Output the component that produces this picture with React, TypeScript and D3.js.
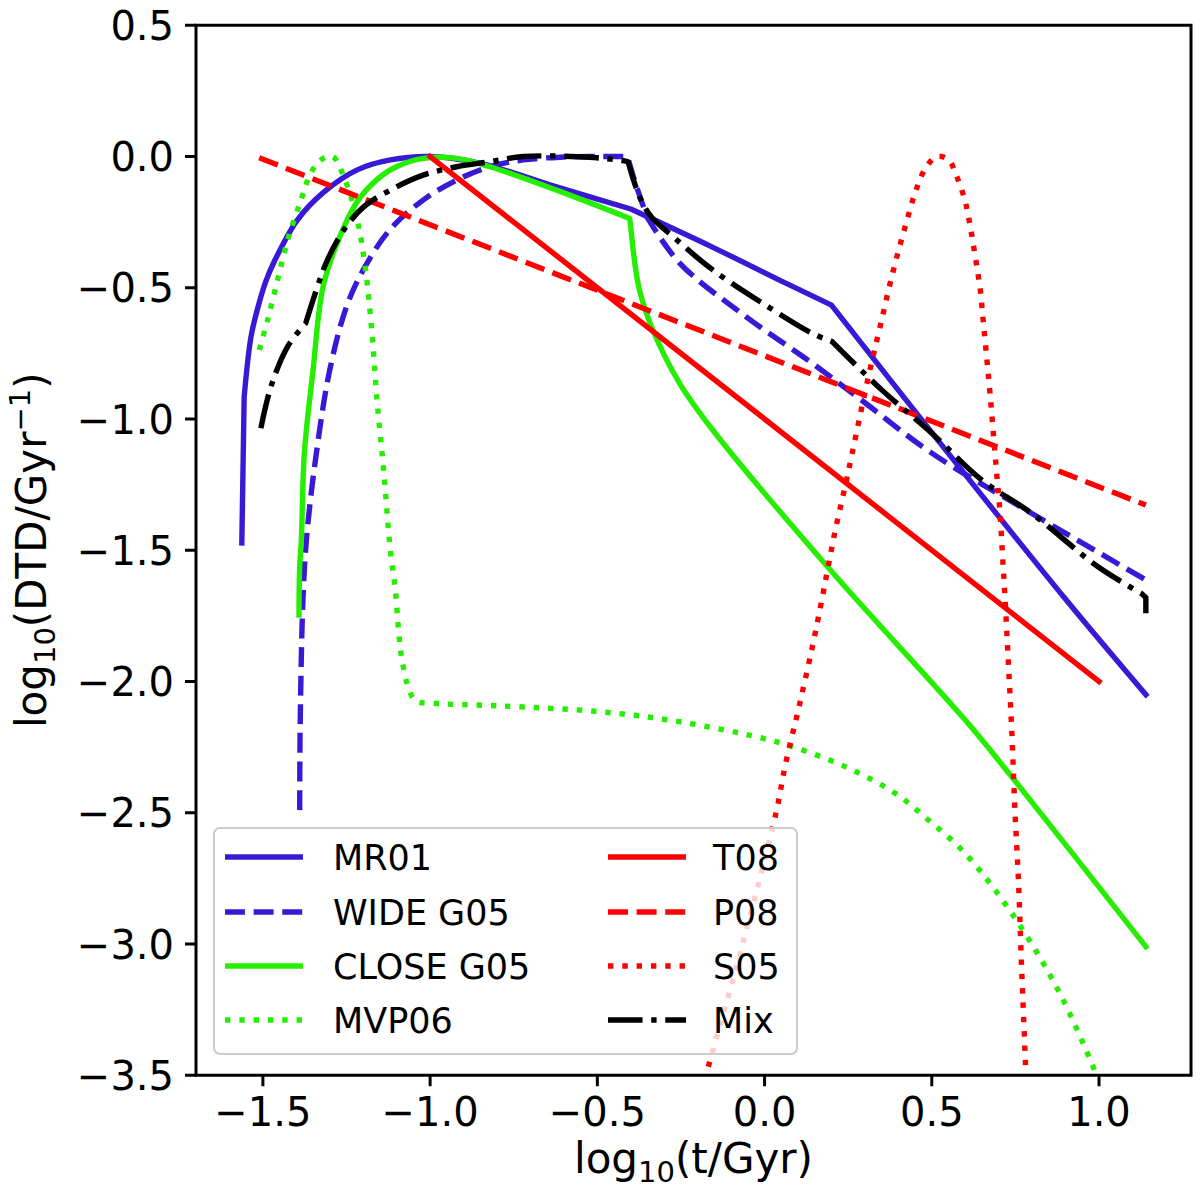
import React from 'react';
import * as d3 from 'd3';

// curves, as [log10(t/Gyr), log10(DTD/Gyr^-1)]
const mr01 = [
  [-1.563, -1.472], [-1.556, -0.916], [-1.536, -0.69], [-1.516, -0.58], [-1.491, -0.475],
  [-1.466, -0.4], [-1.397, -0.242], [-1.317, -0.135], [-1.218, -0.051], [-1.119, -0.013],
  [-1.0, 0.0], [-0.85, -0.026], [-0.622, -0.116], [-0.4, -0.2], [-0.156, -0.345],
  [0.043, -0.47], [0.2, -0.566], [0.499, -1.05], [0.899, -1.685], [1.14, -2.05],
];
const wideG05 = [
  [-1.39, -2.49], [-1.389, -2.22], [-1.386, -1.97], [-1.381, -1.716], [-1.37, -1.461],
  [-1.34, -1.129], [-1.3, -0.813], [-1.25, -0.572], [-1.2, -0.432], [-1.121, -0.28],
  [-1.021, -0.166], [-0.921, -0.09], [-0.822, -0.039], [-0.722, -0.013], [-0.6, -0.002],
  [-0.523, 0.0], [-0.41, 0.0], [-0.389, -0.09], [-0.369, -0.166], [-0.35, -0.234],
  [-0.254, -0.406], [-0.056, -0.61], [0.142, -0.787], [0.302, -0.94], [0.5, -1.13],
  [0.798, -1.359], [1.14, -1.613],
];
const closeG05 = [
  [-1.392, -1.747], [-1.39, -1.563], [-1.385, -1.461], [-1.376, -1.13], [-1.35, -0.813],
  [-1.32, -0.496], [-1.27, -0.305], [-1.221, -0.178], [-1.161, -0.09], [-1.101, -0.039],
  [-1.02, -0.007], [-0.92, -0.007], [-0.821, -0.039], [-0.622, -0.128], [-0.403, -0.236],
  [-0.394, -0.344], [-0.374, -0.509], [-0.334, -0.661], [-0.254, -0.864], [-0.155, -1.042],
  [0.2, -1.58], [0.6, -2.147], [0.739, -2.363], [1.14, -3.01],
];
const mvp06 = [
  [-1.511, -0.737], [-1.486, -0.623], [-1.456, -0.47], [-1.426, -0.318], [-1.386, -0.166],
  [-1.357, -0.064], [-1.327, -0.013], [-1.292, 0.0], [-1.258, -0.077], [-1.218, -0.242],
  [-1.193, -0.432], [-1.173, -0.686], [-1.158, -0.94], [-1.139, -1.194], [-1.119, -1.5],
  [-1.104, -1.651], [-1.094, -1.81], [-1.084, -1.918], [-1.064, -2.026], [-1.044, -2.073],
  [-0.99, -2.083], [-0.791, -2.093], [-0.493, -2.115], [-0.255, -2.153], [-0.006, -2.216],
  [0.083, -2.248], [0.242, -2.325], [0.391, -2.426], [0.49, -2.528], [0.59, -2.642],
  [0.689, -2.794], [0.788, -2.978], [0.888, -3.201], [0.982, -3.467], [1.0, -3.53],
];
const t08 = [[-1.0, 0.0], [1.0, -2.0]];
const p08 = [[-1.511, -0.005], [1.14, -1.328]];
const s05 = [
  [-0.18, -3.52], [-0.07, -3.02], [0.034, -2.502], [0.063, -2.312], [0.103, -2.096],
  [0.143, -1.867], [0.173, -1.677], [0.192, -1.55], [0.212, -1.42], [0.242, -1.25],
  [0.262, -1.13], [0.287, -0.978], [0.312, -0.83], [0.336, -0.699], [0.356, -0.59],
  [0.376, -0.48], [0.401, -0.356], [0.426, -0.242], [0.451, -0.135], [0.481, -0.045],
  [0.515, 0.0], [0.55, -0.013], [0.575, -0.077], [0.6, -0.172], [0.615, -0.267],
  [0.63, -0.382], [0.645, -0.509], [0.654, -0.63], [0.664, -0.763], [0.674, -0.902],
  [0.684, -1.054], [0.694, -1.207], [0.704, -1.359], [0.711, -1.51], [0.718, -1.66],
  [0.729, -1.931], [0.739, -2.185], [0.749, -2.502], [0.759, -2.756], [0.768, -3.073],
  [0.78, -3.454], [0.782, -3.53],
];
const mix = [
  [-1.506, -1.035], [-1.476, -0.877], [-1.426, -0.724], [-1.372, -0.635], [-1.337, -0.496],
  [-1.307, -0.394], [-1.258, -0.28], [-1.198, -0.191], [-1.119, -0.128], [-1.019, -0.07],
  [-0.92, -0.039], [-0.821, -0.02], [-0.721, 0.0], [-0.523, -0.003], [-0.423, -0.016],
  [-0.408, -0.02], [-0.374, -0.153], [-0.339, -0.229], [-0.274, -0.305], [-0.155, -0.432],
  [-0.006, -0.559], [0.143, -0.674], [0.202, -0.705], [0.351, -0.89], [0.5, -1.054],
  [0.649, -1.232], [0.798, -1.359], [0.997, -1.563], [1.126, -1.664], [1.14, -1.68],
  [1.14, -1.74],
];

// indices of points where a curve has a sharp corner
const mr01Knees = [1, 13, 16];
const wideKnees = [16, 19];
const closeKnees = [14, 15];
const mixKnees = [3, 15, 22, 28, 29];

const xTicks = [-1.5, -1.0, -0.5, 0.0, 0.5, 1.0];
const yTicks = [0.5, 0.0, -0.5, -1.0, -1.5, -2.0, -2.5, -3.0, -3.5];

const BLUE = '#3a19d6';
const GREEN = '#26ee00';
const RED = '#ff0000';
const BLACK = '#000000';

const LW = 5.4;
const dashes = {
  solid: null,
  dashed: [3.7, 1.6],
  dotted: [1, 1.65],
  dashdot: [6.4, 1.6, 1, 1.6],
};
const dashArray = (style) => (dashes[style] ? dashes[style].map(d => d * LW).join(' ') : undefined);

const series = [
  { name: 'MR01', data: mr01, knees: mr01Knees, color: BLUE, style: 'solid' },
  { name: 'WIDE G05', data: wideG05, knees: wideKnees, color: BLUE, style: 'dashed' },
  { name: 'CLOSE G05', data: closeG05, knees: closeKnees, color: GREEN, style: 'solid' },
  { name: 'MVP06', data: mvp06, knees: [], color: GREEN, style: 'dotted' },
  { name: 'T08', data: t08, knees: [], color: RED, style: 'solid' },
  { name: 'P08', data: p08, knees: [], color: RED, style: 'dashed' },
  { name: 'S05', data: s05, knees: [], color: RED, style: 'dotted' },
  { name: 'Mix', data: mix, knees: mixKnees, color: BLACK, style: 'dashdot' },
];

const W = 1200;
const H = 1198;
const left = 196;
const right = 1191;
const top = 25.25;
const bottom = 1075.25;
const FONT = 'DejaVu Sans, sans-serif';
const fmt = (v) => d3.format('.1f')(v).replace('-', '\u2212');

const App = () => {
  const x = d3.scaleLinear().domain([-1.70, 1.275]).range([left, right]);
  const y = d3.scaleLinear().domain([-3.5, 0.5]).range([bottom, top]);
  // centripetal catmull-rom keeps the read points and smooths between them
  const line = d3.line()
    .x(d => x(d[0]))
    .y(d => y(d[1]))
    .curve(d3.curveCatmullRom.alpha(0.5));

  // smooth pieces joined with sharp corners at the knees, kept as one subpath
  const buildPath = (data, knees) => {
    const cuts = [0, ...knees, data.length - 1];
    let d = '';
    for (let i = 0; i < cuts.length - 1; i++) {
      const seg = line(data.slice(cuts[i], cuts[i + 1] + 1));
      d += i === 0 ? seg : 'L' + seg.slice(1);
    }
    return d;
  };

  // legend layout
  const lg = { x0: 214, y0: 828, x1: 797, y1: 1054 };
  const rows = [857, 912, 966, 1020];
  const cols = [{ h0: 225, h1: 303, tx: 333 }, { h0: 608, h1: 686, tx: 713 }];

  return (
    <div style={{ position: 'absolute', left: 0, top: 0 }}>
      <svg width={W} height={H} viewBox={`0 0 ${W} ${H}`} style={{ display: 'block', background: '#fff' }}>
        <defs>
          <clipPath id="plot-clip">
            <rect x={left} y={top} width={right - left} height={bottom - top} />
          </clipPath>
        </defs>

        <g clipPath="url(#plot-clip)">
          {series.map(s => (
            <path key={s.name} d={buildPath(s.data, s.knees)} fill="none" stroke={s.color}
              strokeWidth={LW} strokeDasharray={dashArray(s.style)}
              strokeLinejoin="round" strokeLinecap={s.style === 'solid' ? 'square' : 'butt'} />
          ))}
        </g>

        {/* legend */}
        <rect x={lg.x0} y={lg.y0} width={lg.x1 - lg.x0} height={lg.y1 - lg.y0} rx={6}
          fill="#fff" fillOpacity={0.8} stroke="#cccccc" strokeWidth={2} />
        {series.map((s, i) => {
          const c = cols[Math.floor(i / 4)];
          const ry = rows[i % 4];
          return (
            <g key={s.name}>
              <line x1={c.h0} x2={c.h1} y1={ry} y2={ry} stroke={s.color} strokeWidth={LW}
                strokeDasharray={dashArray(s.style)} strokeLinecap="butt" />
              <text x={c.tx} y={ry + 12.7} fontSize={35} fontFamily={FONT} fill="#000">{s.name}</text>
            </g>
          );
        })}

        {/* frame */}
        <rect x={left} y={top} width={right - left} height={bottom - top} fill="none"
          stroke="#000" strokeWidth={3} />

        {/* x axis */}
        {xTicks.map(t => (
          <g key={`x${t}`}>
            <line x1={x(t)} x2={x(t)} y1={bottom} y2={bottom + 11} stroke="#000" strokeWidth={3} />
            <text x={x(t)} y={bottom + 51} textAnchor="middle" fontSize={40} fontFamily={FONT}>{fmt(t)}</text>
          </g>
        ))}
        {/* y axis */}
        {yTicks.map(t => (
          <g key={`y${t}`}>
            <line x1={left} x2={left - 11} y1={y(t)} y2={y(t)} stroke="#000" strokeWidth={3} />
            <text x={left - 22} y={y(t) + 14.6} textAnchor="end" fontSize={40} fontFamily={FONT}>{fmt(t)}</text>
          </g>
        ))}

        <text x={(left + right) / 2} y={1173} textAnchor="middle" fontSize={42} fontFamily={FONT}>
          log<tspan fontSize={29} dy={9}>10</tspan><tspan dy={-9}>(t/Gyr)</tspan>
        </text>
        <text transform={`translate(46,${(top + bottom) / 2}) rotate(-90)`} textAnchor="middle"
          fontSize={42} fontFamily={FONT}>
          log<tspan fontSize={29} dy={9}>10</tspan><tspan dy={-9}>(DTD/Gyr</tspan>
          <tspan fontSize={29} dy={-16}>{'\u22121'}</tspan><tspan dy={16}>)</tspan>
        </text>
      </svg>
    </div>
  );
};

export default App;
